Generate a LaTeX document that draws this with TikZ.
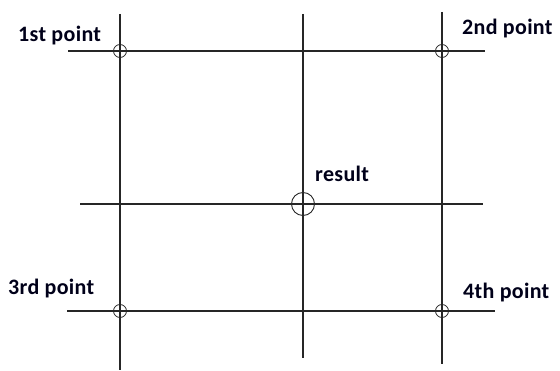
\documentclass[tikz,border=0pt]{standalone}
\usepackage{fontspec}
\setmainfont{Carlito}
\newfontfamily\lblfont[LetterSpace=1.5]{Carlito}
\begin{document}
\begin{tikzpicture}[x=1pt,y=-1pt,
  gridline/.style={line width=1.3pt,color=black!85},
  pt/.style={circle,draw=black!85,line width=0.8pt,minimum size=13pt,inner sep=0pt},
  res/.style={circle,draw=black!85,line width=0.9pt,minimum size=23pt,inner sep=0pt},
  lbl/.style={font=\lblfont\bfseries\fontsize{22}{26}\selectfont,text=black!90!blue,inner sep=0pt}]
\useasboundingbox (0,0) rectangle (560,371);
% vertical lines
\coordinate (v1t) at (120,14); \coordinate (v1b) at (120,370);
\coordinate (v2t) at (303,14); \coordinate (v2b) at (303,358);
\coordinate (v3t) at (442,12); \coordinate (v3b) at (442,364);
% horizontal lines
\coordinate (h1l) at (68,51); \coordinate (h1r) at (485,51);
\coordinate (h2l) at (80,204); \coordinate (h2r) at (483,204);
\coordinate (h3l) at (67,311); \coordinate (h3r) at (495,311);
\draw[gridline] (v1t) -- (v1b);
\draw[gridline] (v2t) -- (v2b);
\draw[gridline] (v3t) -- (v3b);
\draw[gridline] (h1l) -- (h1r);
\draw[gridline] (h2l) -- (h2r);
\draw[gridline] (h3l) -- (h3r);
% points
\node[pt] (p1) at (120,51) {};
\node[pt] (p2) at (442,51) {};
\node[pt] (p3) at (120,311) {};
\node[pt] (p4) at (442,311) {};
\node[res] (r) at (303,204) {};
% labels
\node[lbl,anchor=west] (l1) at (18,36) {1st point};
\node[lbl,anchor=west] (l2) at (462,29) {2nd point};
\node[lbl,anchor=west] (l3) at (315,174) {result};
\node[lbl,anchor=west] (l4) at (8,289) {3rd point};
\node[lbl,anchor=west] (l5) at (463,293) {4th point};
\end{tikzpicture}
\end{document}
